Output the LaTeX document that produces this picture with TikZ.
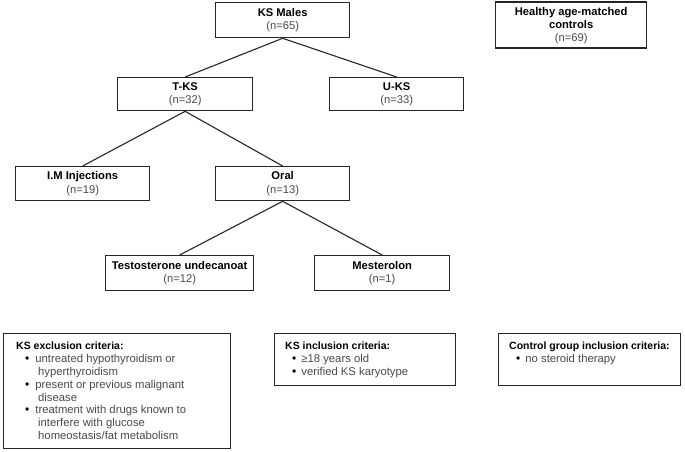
\documentclass[tikz,border=0pt]{standalone}
\usepackage{fontspec}
\setmainfont{Liberation Sans}
\definecolor{ntext}{HTML}{4A4A4A}
\definecolor{lnc}{HTML}{262626}
\begin{document}
\begin{tikzpicture}[x=1pt,y=-1pt,
  every node/.style={font=\fontsize{11.2}{13.8}\selectfont},
  box/.style={draw=lnc, line width=1.3pt, rectangle, inner sep=0pt, align=center, anchor=north west},
  crit/.style={anchor=north west, inner sep=0pt, align=left, text=ntext, font=\fontsize{11.3}{12.8}\selectfont},
  link/.style={draw=lnc, line width=1.1pt}]
\useasboundingbox[fill=white] (0,0) rectangle (685,452);
\newcommand{\nn}[1]{\textcolor{ntext}{#1}}
\newcommand{\bul}{\textcolor{black}{\large\textbullet}}
\newcommand{\hd}[1]{\textcolor{black}{\fontsize{10.5}{12.8}\selectfont\textbf{#1}}}
% tree boxes
\node[box, minimum width=134pt, minimum height=35pt] (ks) at (215,2) {\textbf{KS Males}\\\nn{(n=65)}};
\node[box, minimum width=151pt, minimum height=46pt, font=\fontsize{11.2}{13}\selectfont] (hc) at (495,1.5) {\textbf{Healthy age-matched}\\\textbf{controls}\\\nn{(n=69)}};
\node[box, minimum width=135pt, minimum height=33pt] (tks) at (117,77) {\textbf{T-KS}\\\nn{(n=32)}};
\node[box, minimum width=134pt, minimum height=33pt] (uks) at (329,77) {\textbf{U-KS}\\\nn{(n=33)}};
\node[box, minimum width=134pt, minimum height=34pt] (im) at (15,166) {\textbf{I.M Injections}\\\nn{(n=19)}};
\node[box, minimum width=134pt, minimum height=34pt] (oral) at (215,166) {\textbf{Oral}\\\nn{(n=13)}};
\node[box, minimum width=148pt, minimum height=35pt] (tu) at (105,255) {\textbf{Testosterone undecanoat}\\\nn{(n=12)}};
\node[box, minimum width=135pt, minimum height=35pt] (mes) at (314,255) {\textbf{Mesterolon}\\\nn{(n=1)}};
% connectors
\draw[link] (ks.south) -- (tks.north);
\draw[link] (ks.south) -- (uks.north);
\draw[link] (tks.south) -- (im.north);
\draw[link] (tks.south) -- (oral.north);
\draw[link] (oral.south) -- (tu.north);
\draw[link] (oral.south) -- (mes.north);
% criteria boxes
\node[box, minimum width=227pt, minimum height=115pt] (excl) at (3,333) {};
\node[box, minimum width=181pt, minimum height=52pt] (incl) at (274,333) {};
\node[box, minimum width=182pt, minimum height=52pt] (ctrl) at (498,333) {};
\node[crit] (excltxt) at (16,342) {\hd{KS exclusion criteria:}\\
\hspace*{9pt}\bul\hspace{6pt}untreated hypothyroidism or\\
\hspace*{22pt}hyperthyroidism\\
\hspace*{9pt}\bul\hspace{6pt}present or previous malignant\\
\hspace*{22pt}disease\\
\hspace*{9pt}\bul\hspace{6pt}treatment with drugs known to\\
\hspace*{22pt}interfere with glucose\\
\hspace*{22pt}homeostasis/fat metabolism};
\node[crit] (incltxt) at (285,342) {\hd{KS inclusion criteria:}\\
\hspace*{7pt}\bul\hspace{5pt}≥18 years old\\
\hspace*{7pt}\bul\hspace{5pt}verified KS karyotype};
\node[crit] (ctrltxt) at (509,342) {\hd{Control group inclusion criteria:}\\
\hspace*{7pt}\bul\hspace{5pt}no steroid therapy};
\end{tikzpicture}
\end{document}
